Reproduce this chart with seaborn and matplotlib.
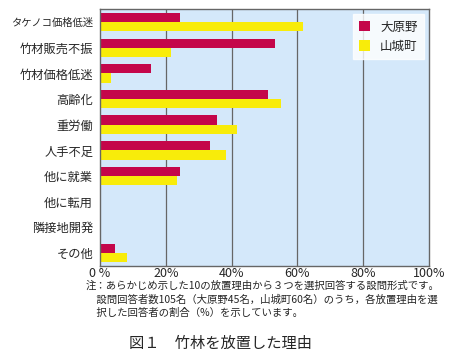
import pandas as pd
import matplotlib.pyplot as plt
import seaborn as sns

sns.set_style("white")
plt.rcParams['font.family'] = ['Noto Sans CJK JP', 'DejaVu Sans']

# data (percent of respondents)
reasons = ['タケノコ価格低迷', '竹材販売不振', '竹材価格低迷', '高齢化', '重労働',
           '人手不足', '他に就業', '他に転用', '隣接地開発', 'その他']
ohara = [24.4, 53.3, 15.6, 51.1, 35.6, 33.3, 24.4, 0, 0, 4.4]
yamashiro = [61.7, 21.7, 3.3, 55.0, 41.7, 38.3, 23.3, 0, 0, 8.3]
areas = ['大原野', '山城町']
xticks = [0, 20, 40, 60, 80, 100]
xtick_labels = ['0 %', '20%', '40%', '60%', '80%', '100%']

RED = '#c4064a'
YELLOW = '#f8ec0a'

df = pd.DataFrame({
    'reason': reasons * 2,
    'value': ohara + yamashiro,
    'area': [areas[0]] * len(reasons) + [areas[1]] * len(reasons),
})

fig = plt.figure(figsize=(4.51, 3.6), dpi=100)
ax = fig.add_axes([0.222, 0.262, 0.729, 0.712])
ax.set_facecolor('#d4e8fa')

sns.barplot(data=df, y='reason', x='value', hue='area', orient='h',
            palette=[RED, YELLOW], width=0.72, saturation=1,
            edgecolor='none', ax=ax)

ax.set_xlim(0, 100)
ax.set_xticks(xticks)
ax.set_xticklabels(xtick_labels, fontsize=9)
ax.tick_params(axis='y', labelsize=8.8, length=0, pad=5)
ax.tick_params(axis='x', length=0, pad=1)
# katakana label is set narrower in the original
ax.get_yticklabels()[0].set_fontsize(7.4)
ax.set_xlabel('')
ax.set_ylabel('')
for x in xticks[1:-1]:
    ax.axvline(x, color='#666666', lw=0.9, zorder=0)
for s in ax.spines.values():
    s.set_color('#666666')
    s.set_linewidth(1.0)

leg = ax.legend(loc='upper right', frameon=True, fontsize=9, handlelength=0.9,
                handleheight=0.9, borderpad=0.5, labelspacing=0.5,
                fancybox=False, edgecolor='white', borderaxespad=0.4)
leg.get_frame().set_facecolor('white')

note = ('注：あらかじめ示した10の放置理由から３つを選択回答する設問形式です。\n'
        '　設問回答者数105名（大原野45名，山城町60名）のうち，各放置理由を選\n'
        '　択した回答者の割合（%）を示しています。')
fig.text(0.19, 0.22, note, fontsize=7.5, va='top', ha='left', linespacing=1.4)
fig.text(0.49, 0.047, '図１　竹林を放置した理由', fontsize=11, ha='center', va='center')

fig.savefig('out.png', dpi=100)
plt.close(fig)
